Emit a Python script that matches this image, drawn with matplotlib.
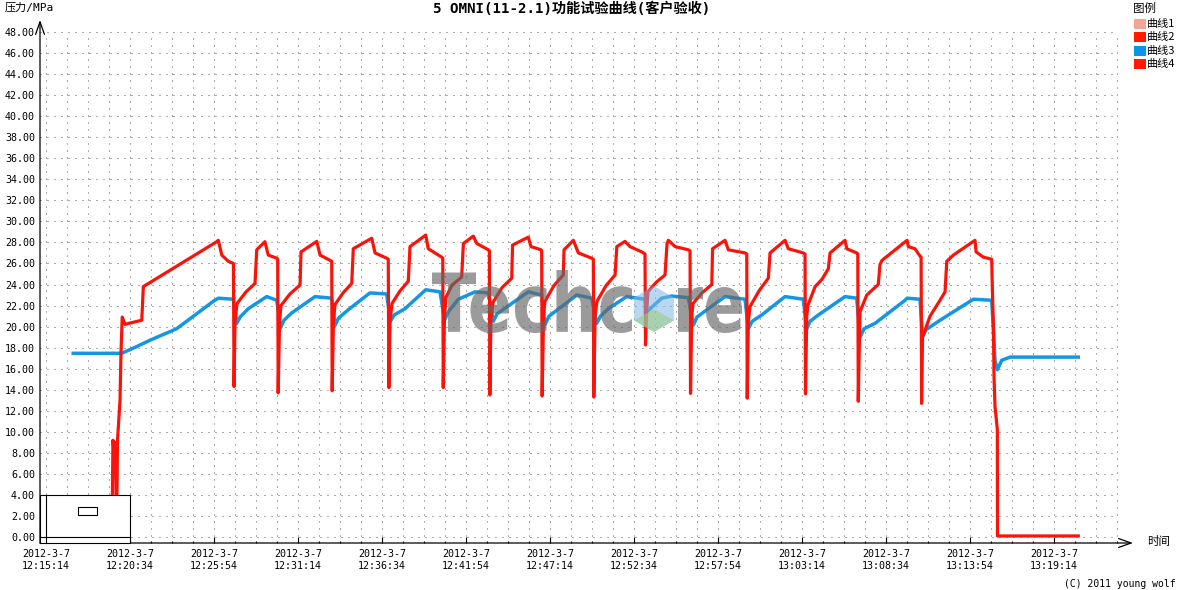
import numpy as np
import matplotlib
matplotlib.use('Agg')
import matplotlib.pyplot as plt
from matplotlib.ticker import MultipleLocator
from matplotlib.patches import Rectangle, PathPatch, Polygon
from matplotlib.lines import Line2D
from matplotlib.textpath import TextPath
from matplotlib.font_manager import FontProperties
from matplotlib.transforms import Affine2D

# time axis: minutes after 12:15:14
tick_min = [0, 16/3, 32/3, 16, 64/3, 80/3, 32, 112/3, 128/3, 48, 160/3, 176/3, 64]
tick_labels = ['2012-3-7\n12:15:14', '2012-3-7\n12:20:34', '2012-3-7\n12:25:54',
               '2012-3-7\n12:31:14', '2012-3-7\n12:36:34', '2012-3-7\n12:41:54',
               '2012-3-7\n12:47:14', '2012-3-7\n12:52:34', '2012-3-7\n12:57:54',
               '2012-3-7\n13:03:14', '2012-3-7\n13:08:34', '2012-3-7\n13:13:54',
               '2012-3-7\n13:19:14']

# 曲线4 (red)
red_t = [4.19, 4.25, 4.29, 4.35, 4.41, 4.48, 4.54, 4.70, 4.76, 4.84, 5.02, 5.23, 6.08, 6.14, 6.18,
         10.84, 10.94, 11.16, 11.58,
         11.90, 11.94, 12.00, 12.13, 12.70, 13.27, 13.38, 13.90, 14.11, 14.65,
         14.71, 14.74, 14.83, 14.92, 15.49, 16.13, 16.19, 17.19, 17.40, 18.03,
         18.14, 18.17, 18.25, 18.35, 18.86, 19.41, 19.51, 20.68, 20.89, 21.63,
         21.73, 21.77, 21.84, 21.97, 22.48, 23.00, 23.11, 24.11, 24.27, 25.12,
         25.19, 25.22, 25.30, 25.40, 25.78, 26.39, 26.50, 27.13, 27.35, 28.08,
         28.15, 28.18, 28.25, 28.38, 28.95, 29.57, 29.62, 30.62, 30.79, 31.43,
         31.47, 31.50, 31.59, 31.68, 32.25, 32.84, 32.89, 33.48, 33.80, 34.65,
         34.75, 34.78, 34.86, 34.98, 35.56, 36.13, 36.24, 36.76, 37.08, 37.82,
         38.03, 38.06, 38.14, 38.22, 38.73, 39.30, 39.43, 39.51, 39.94, 40.78,
         40.89, 40.92, 41.00, 41.08, 41.65, 42.27, 42.32, 43.11, 43.32, 44.38,
         44.49, 44.52, 44.59, 44.70, 45.27, 45.86, 45.97, 46.92, 47.13, 48.08,
         48.19, 48.22, 48.30, 48.38, 48.83, 49.27, 49.67, 49.78, 50.73, 50.84, 51.47,
         51.54, 51.57, 51.68, 52.11, 52.84, 52.95, 53.08, 54.67, 54.75, 55.17, 55.49,
         55.56, 55.59, 55.65, 56.13, 56.76, 57.08, 57.19, 57.61, 58.98, 59.05, 59.51, 60.04,
         60.08, 60.15, 60.19, 60.25, 60.40, 60.40, 60.41, 65.54]
red_p = [0.0, 9.2, 8.6, 9.0, 8.8, 0.0, 9.2, 13.0, 17.5, 20.9, 20.2, 20.3, 20.6, 22.5, 23.8,
         28.07, 28.2, 26.8, 26.2,
         26.0, 14.3, 20.5, 22.2, 23.3, 24.1, 27.3, 28.07, 26.8, 26.5,
         26.4, 13.7, 20.5, 22.0, 23.1, 23.95, 27.1, 28.1, 26.8, 26.3,
         26.2, 13.9, 20.5, 22.1, 23.2, 24.1, 27.4, 28.4, 27.0, 26.5,
         26.4, 14.2, 20.5, 22.2, 23.4, 24.3, 27.6, 28.7, 27.4, 26.6,
         26.5, 14.2, 21.0, 22.8, 23.95, 24.7, 27.9, 28.6, 27.9, 27.3,
         27.2, 13.5, 20.8, 22.3, 23.7, 24.6, 27.75, 28.5, 27.6, 27.3,
         27.2, 13.4, 21.0, 22.4, 23.9, 24.9, 27.3, 28.2, 27.0, 26.5,
         26.4, 13.3, 21.0, 22.4, 23.9, 24.9, 27.6, 28.1, 27.6, 27.1,
         26.9, 18.25, 21.5, 23.3, 24.2, 24.9, 27.9, 28.2, 27.6, 27.3,
         27.2, 13.65, 21.0, 22.2, 23.2, 24.0, 27.4, 28.2, 27.3, 27.0,
         26.9, 13.2, 20.5, 21.9, 23.4, 24.6, 27.0, 28.2, 27.4, 27.0,
         26.9, 13.6, 21.0, 22.05, 23.8, 24.5, 25.5, 27.0, 28.2, 27.4, 27.0,
         26.9, 12.9, 21.4, 23.0, 24.0, 25.9, 26.3, 28.2, 27.6, 27.4, 26.7,
         26.6, 12.7, 19.0, 21.0, 22.5, 23.3, 26.2, 26.8, 28.2, 27.1, 26.6, 26.4,
         23.8, 20.0, 15.2, 12.4, 10.2, 8.6, 0.1, 0.1]

# 曲线3 (blue)
blue_t = [1.73, 4.81, 5.76, 6.60, 8.30, 10.62, 10.94, 11.89,
          12.11, 12.32, 12.84, 14.01, 14.65,
          14.89, 15.11, 15.60, 17.08, 18.14,
          18.35, 18.57, 19.19, 20.57, 21.63,
          21.87, 22.10, 22.79, 24.11, 25.02,
          25.30, 25.54, 26.18, 27.24, 28.08,
          28.40, 28.63, 29.57, 30.62, 31.47,
          31.68, 31.94, 32.74, 33.70, 34.65,
          34.96, 35.21, 35.70, 36.87, 38.03,
          38.14, 39.09, 39.73, 40.78,
          41.10, 41.33, 42.05, 43.11, 44.38,
          44.59, 44.83, 45.44, 46.92, 48.08,
          48.30, 48.51, 49.03, 50.73, 51.47,
          51.68, 51.94, 52.63, 54.54, 54.67, 55.49,
          55.65, 55.87, 56.76, 58.88, 60.04,
          60.15, 60.25, 60.40, 60.68, 61.21, 65.54]
blue_p = [17.46, 17.46, 18.1, 18.7, 19.8, 22.4, 22.7, 22.6,
          20.3, 20.9, 21.7, 22.85, 22.5,
          19.9, 20.6, 21.3, 22.85, 22.7,
          20.1, 20.8, 21.6, 23.2, 23.1,
          20.5, 21.1, 21.7, 23.5, 23.3,
          20.6, 21.4, 22.6, 23.3, 23.2,
          20.5, 21.2, 22.2, 23.3, 23.0,
          20.2, 21.0, 21.9, 23.0, 22.7,
          20.3, 21.0, 21.7, 22.85, 22.6,
          21.4, 22.7, 22.9, 22.75,
          20.15, 20.9, 21.7, 22.85, 22.6,
          19.8, 20.5, 21.1, 22.85, 22.6,
          19.8, 20.5, 21.1, 22.85, 22.7,
          19.0, 19.8, 20.3, 22.5, 22.7, 22.6,
          19.0, 19.7, 20.6, 22.6, 22.5,
          19.7, 16.8, 15.9, 16.8, 17.1, 17.1]

legend_names = ['曲线1', '曲线2', '曲线3', '曲线4']
legend_colors = ['#F2A595', '#FF1A00', '#0A96E8', '#FF1A00']

W, H = 1178, 590
mono_cjk = ['DejaVu Sans Mono', 'Noto Sans CJK SC']

def fx(x):
    return x / W

def fy(y):
    return 1 - y / H

fig = plt.figure(figsize=(W / 100, H / 100), dpi=100)
ax = fig.add_axes([fx(40), fy(543), 1078 / W, 511 / H])

ax.plot(blue_t, blue_p, color='#1596E2', lw=2.5, solid_joinstyle='round', zorder=3)
ax.plot(red_t, red_p, color='#F8140A', lw=2.3, solid_joinstyle='round', zorder=4)

ax.set_xlim(-0.381, 68.06)
ax.set_ylim(-0.57, 48.0)
for s in ax.spines.values():
    s.set_visible(False)

ax.set_xticks(tick_min, labels=tick_labels)
ax.xaxis.set_minor_locator(MultipleLocator(4 / 3))
ax.set_yticks(np.arange(0, 49, 2), labels=['%.2f' % v for v in np.arange(0, 49, 2)])
ax.tick_params(axis='x', which='major', direction='in', length=4.3, width=0.8, pad=4,
               labelsize=7.2)
ax.tick_params(axis='x', which='minor', direction='in', length=1.8, width=0.8)
ax.tick_params(axis='y', which='both', length=0, pad=3.6, labelsize=7.2)
for lab in ax.get_xticklabels() + ax.get_yticklabels():
    lab.set_fontfamily('DejaVu Sans Mono')
for lab in ax.get_xticklabels():
    lab.set_linespacing(1.25)

ax.set_axisbelow(True)
ax.grid(axis='x', which='both', color='#5a5a5a', linestyle=(0, (1, 6)), lw=0.72)
ax.grid(axis='y', which='major', color='#5a5a5a', linestyle=(0, (1, 6)), lw=0.72)

# axis lines with open arrow heads
arr = dict(arrowstyle='->,head_length=0.9,head_width=0.32', lw=0.9, color='black',
           shrinkA=0, shrinkB=0, mutation_scale=10)
ax.annotate('', xy=(1.0139, 0), xytext=(0, 0), xycoords='axes fraction',
            arrowprops=arr, annotation_clip=False)
ax.annotate('', xy=(0, 1.0235), xytext=(0, 0), xycoords='axes fraction',
            arrowprops=arr, annotation_clip=False)

# texts
fig.text(fx(572), fy(9), '5 OMNI(11-2.1)功能试验曲线(客户验收)', ha='center', va='center',
         fontsize=10.2, fontweight='bold', family=mono_cjk)
fig.text(fx(5), fy(8), '压力/MPa', ha='left', va='center', fontsize=8, family=mono_cjk)
fig.text(fx(1147), fy(542), '时间', ha='left', va='center', fontsize=8.3,
         family=['Noto Sans CJK SC'])
fig.text(fx(1176), fy(584), '(C) 2011 young wolf', ha='right', va='center', fontsize=7,
         family=['DejaVu Sans Mono'])

# legend
fig.text(fx(1133), fy(8), '图例', ha='left', va='center', fontsize=8.3,
         family=['Noto Sans CJK SC'])
for i, (name, col) in enumerate(zip(legend_names, legend_colors)):
    cy = 24 + i * 13.33
    fig.add_artist(Rectangle((fx(1134), fy(cy + 5)), 12 / W, 10 / H, transform=fig.transFigure,
                             facecolor=col, edgecolor='none'))
    fig.text(fx(1147), fy(cy), name, ha='left', va='center', fontsize=8,
             family=['Noto Sans CJK SC'])

# overview box at lower left
fig.add_artist(Rectangle((fx(40), fy(543)), 90 / W, 48 / H, transform=fig.transFigure,
                         facecolor='white', edgecolor='black', lw=0.8, zorder=5))
fig.add_artist(Line2D([fx(46), fx(46)], [fy(543), fy(495)], transform=fig.transFigure,
                      color='black', lw=0.8, zorder=6))
fig.add_artist(Line2D([fx(40), fx(130)], [fy(537), fy(537)], transform=fig.transFigure,
                      color='black', lw=0.8, zorder=6))
fig.add_artist(Rectangle((fx(78), fy(515)), 19 / W, 8 / H, transform=fig.transFigure,
                         facecolor='white', edgecolor='black', lw=0.8, zorder=6))

# watermark
wm_font = FontProperties(family='DejaVu Sans', weight='bold')

def watermark(s, x0, x1, ytop, ybot):
    tp = TextPath((0, 0), s, size=100, prop=wm_font)
    ext = tp.get_extents()
    tr = (Affine2D().translate(-ext.x0, -ext.y0)
          .scale((x1 - x0) / ext.width / W, (ybot - ytop) / ext.height / H)
          .translate(fx(x0), fy(ybot)))
    fig.add_artist(PathPatch(tr.transform_path(tp), transform=fig.transFigure,
                             facecolor='#666666', edgecolor='none', alpha=0.65, zorder=7))

watermark('Techc', 432, 632, 270, 333)
watermark('re', 678, 742, 287, 333)
ang = np.deg2rad(np.arange(90, 450, 60))
hx = 654 + 23 * np.cos(ang)
hy = 309 - 23 * np.sin(ang)
fig.add_artist(Polygon(np.column_stack([fx(hx), fy(hy)]), closed=True, transform=fig.transFigure,
                       facecolor='#7fb8e6', edgecolor='none', alpha=0.55, zorder=7))
low = [(654, 309), (hx[2], hy[2]), (hx[3], hy[3]), (hx[4], hy[4])]
fig.add_artist(Polygon([(fx(a), fy(b)) for a, b in low], closed=True, transform=fig.transFigure,
                       facecolor='#9ccc7a', edgecolor='none', alpha=0.55, zorder=7))

fig.savefig('out.png', dpi=100, facecolor='white')
